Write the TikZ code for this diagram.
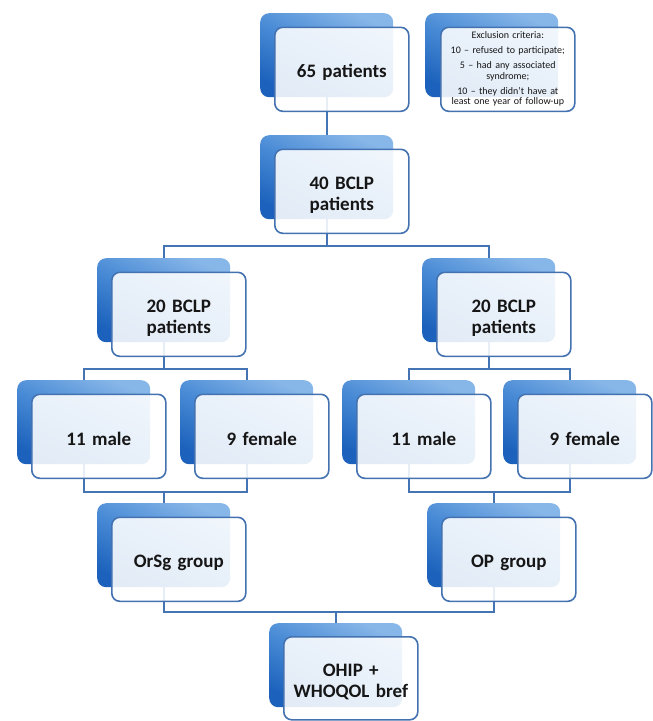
\documentclass[tikz,border=0pt]{standalone}
\usepackage{fontspec}
\setmainfont{Carlito}
\usetikzlibrary{calc}
\pgfdeclarelayer{bg}
\pgfsetlayers{bg,main}
\definecolor{backdark}{RGB}{28,98,188}
\definecolor{backmid}{RGB}{72,138,213}
\definecolor{backlight}{RGB}{135,182,232}
\definecolor{frameblue}{RGB}{68,114,176}
\definecolor{linkblue}{RGB}{68,116,180}
\definecolor{txt}{RGB}{22,22,22}
\newcommand{\lowerit}{\rule{0pt}{19.5pt}}
\tikzset{
  backbox/.style={rectangle, rounded corners=9pt, minimum width=133pt, minimum height=84pt,
    inner sep=0pt, draw=none, top color=backlight, bottom color=backdark, middle color=backmid,
    shading angle=-25, anchor=north west},
  frontbox/.style={rectangle, rounded corners=8pt, minimum width=134pt, minimum height=84pt,
    inner sep=2pt, draw=frameblue, line width=1.6pt, fill=white, fill opacity=0.88,
    text opacity=1, text=txt, align=center, text width=128pt, anchor=north west,
    font=\fontsize{19}{21}\selectfont\bfseries},
  smalltext/.style={font=\fontsize{10}{10.5}\selectfont\mdseries},
  link/.style={draw=linkblue, line width=1.9pt},
}
\begin{document}
\begin{tikzpicture}[x=1pt,y=-1pt]
\useasboundingbox (0,0) rectangle (653,721);
\begin{pgfonlayer}{bg}
\fill[white] (0,0) rectangle (653,721);
\end{pgfonlayer}
% row 1
\node[backbox] (b65) at (260,13) {};
\node[frontbox] (f65) at (274,26.5) {\lowerit 65 patients};
\node[backbox] (bEx) at (425,13) {};
\node[frontbox, smalltext] (fEx) at (440,26.5) {Exclusion criteria:\\[4.5pt]
10 – refused to participate;\\[4.5pt]
5 – had any associated\\ syndrome;\\[4.5pt]
10 – they didn't have at\\ least one year of follow-up};
% row 2
\node[backbox] (b40) at (260,135) {};
\node[frontbox] (f40) at (274,148.5) {\lowerit 40 BCLP\\ patients};
% row 3
\node[backbox] (b20L) at (97,258) {};
\node[frontbox] (f20L) at (111,271.5) {\lowerit 20 BCLP\\ patients};
\node[backbox] (b20R) at (422,258) {};
\node[frontbox] (f20R) at (436,271.5) {\lowerit 20 BCLP\\ patients};
% row 4
\node[backbox] (b11L) at (17,380) {};
\node[frontbox] (f11L) at (31,393.5) {\lowerit 11 male};
\node[backbox] (b9L) at (180,380) {};
\node[frontbox] (f9L) at (194,393.5) {\lowerit 9 female};
\node[backbox] (b11R) at (342,380) {};
\node[frontbox] (f11R) at (356,393.5) {\lowerit 11 male};
\node[backbox] (b9R) at (503,380) {};
\node[frontbox] (f9R) at (517,393.5) {\lowerit 9 female};
% row 5
\node[backbox] (bOrSg) at (97,503) {};
\node[frontbox] (fOrSg) at (111,516.5) {\lowerit OrSg group};
\node[backbox] (bOP) at (427,503) {};
\node[frontbox] (fOP) at (441,516.5) {\lowerit OP group};
% row 6
\node[backbox] (bOH) at (269,623) {};
\node[frontbox, minimum height=83pt] (fOH) at (283,636) {\lowerit OHIP +\\ WHOQOL bref};
% connectors
\begin{pgfonlayer}{bg}
\draw[link] (b65.south) -- (b40.north);
\draw[link] (b40.south) -- ++(0,27) -| (b20L.north);
\draw[link] (b40.south) -- ++(0,27) -| (b20R.north);
\draw[link] (b20L.south) -- ++(0,27) -| (b11L.north);
\draw[link] (b20L.south) -- ++(0,27) -| (b9L.north);
\draw[link] (b20R.south) -- ++(0,27) -| (b11R.north);
\draw[link] (b20R.south) -- ++(0,27) -| (b9R.north);
\draw[link] (b11L.south) -- ++(0,28) -| (bOrSg.north);
\draw[link] (b9L.south) -- ++(0,28) -| (bOrSg.north);
\draw[link] (b11R.south) -- ++(0,28) -| (bOP.north);
\draw[link] (b9R.south) -- ++(0,28) -| (bOP.north);
\draw[link] (bOrSg.south) -- ++(0,25) -| (bOH.north);
\draw[link] (bOP.south) -- ++(0,25) -| (bOH.north);
\end{pgfonlayer}
\end{tikzpicture}
\end{document}
